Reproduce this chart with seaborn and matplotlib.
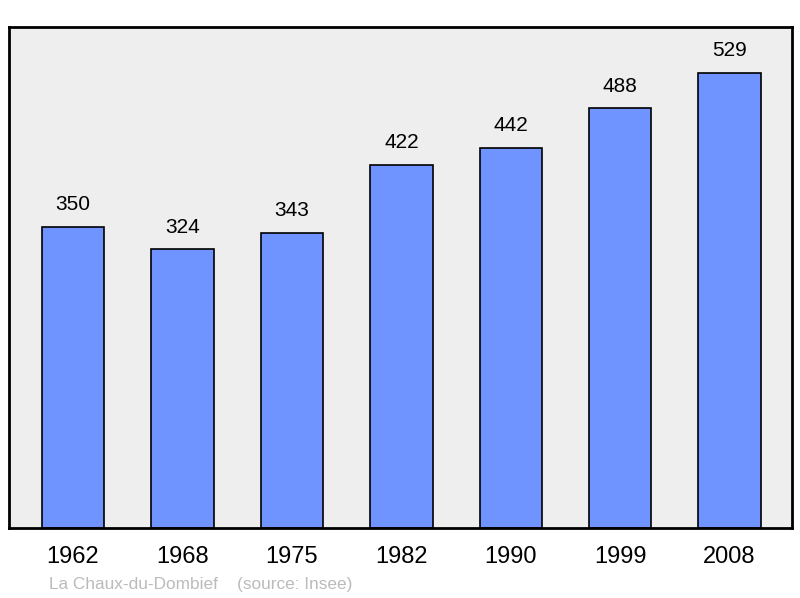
import matplotlib
matplotlib.use("Agg")
import matplotlib.pyplot as plt
import seaborn as sns

# Population data
years = ["1962", "1968", "1975", "1982", "1990", "1999", "2008"]
population = [350, 324, 343, 422, 442, 488, 529]
caption = "La Chaux-du-Dombief    (source: Insee)"

sns.set_style("white")
plt.rcParams["font.family"] = ["Liberation Sans", "DejaVu Sans"]

fig = plt.figure(figsize=(8, 5.98), dpi=100)
ax = fig.add_axes([0.01125, 0.117, 0.97875, 0.838])
ax.set_facecolor("#eeeeee")

sns.barplot(x=years, y=population, color="#7094ff", saturation=1,
            width=0.57, edgecolor="black", linewidth=1.2, ax=ax)

ax.bar_label(ax.containers[0], fontsize=15, padding=9, color="black")

ax.set_xlim(-0.585, 6.57)
ax.set_ylim(0, 582.5)
ax.set_yticks([])
ax.tick_params(axis="x", length=0, pad=13, labelsize=17, labelcolor="black")
ax.set_xlabel("")
ax.set_ylabel("")
for s in ax.spines.values():
    s.set_visible(True)
    s.set_color("black")
    s.set_linewidth(2)

fig.text(49 / 800, 1 - 584 / 598, caption, fontsize=12.4, color="#bbbbbb",
         va="center", ha="left")

fig.savefig("out.png", dpi=100)
plt.close(fig)
